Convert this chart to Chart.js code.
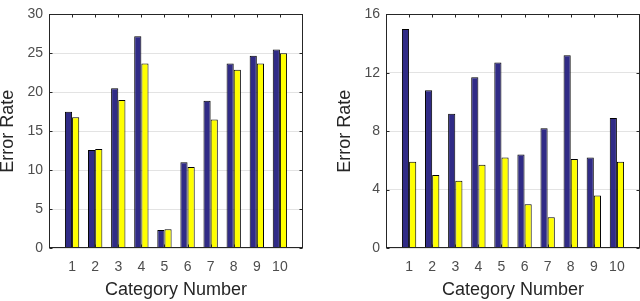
<!DOCTYPE html>
<html>
<head>
<meta charset="utf-8">
<script src="https://cdn.jsdelivr.net/npm/chart.js@4/dist/chart.umd.min.js"></script>
<style>
  html, body { margin: 0; padding: 0; background: #fff; }
  #wrap { display: flex; width: 640px; height: 301px; }
  canvas { display: block; }
</style>
</head>
<body>
<div id="wrap">
  <canvas id="c1" width="320" height="301"></canvas>
  <canvas id="c2" width="320" height="301"></canvas>
</div>
<script>
const categories = ['1', '2', '3', '4', '5', '6', '7', '8', '9', '10'];
const leftBlue   = [17.5, 12.6, 20.5, 27.2, 2.3, 11.0, 18.9, 23.7, 24.7, 25.5];
const leftYellow = [16.8, 12.7, 19.0, 23.7, 2.4, 10.4, 16.5, 22.9, 23.7, 25.0];
const rightBlue   = [15.0, 10.8, 9.2, 11.7, 12.7, 6.4, 8.2, 13.2, 6.2, 8.9];
const rightYellow = [5.9, 5.0, 4.6, 5.7, 6.2, 3.0, 2.1, 6.1, 3.6, 5.9];
const leftYTicks  = [0, 5, 10, 15, 20, 25, 30];
const rightYTicks = [0, 4, 8, 12, 16];
const xTitle = 'Category Number';
const yTitle = 'Error Rate';

const BLUE = '#302b86';
const YELLOW = '#ffff00';
const FONT = "'Liberation Sans', Arial, sans-serif";

const frame = {
  id: 'frame',
  afterDatasetsDraw(chart) {
    const { ctx, chartArea: a, scales: { x, y } } = chart;
    ctx.save();
    ctx.strokeStyle = '#262626';
    ctx.lineWidth = 1;
    const L = Math.round(a.left) + 0.5, R = Math.round(a.right) - 0.5;
    const T = Math.round(a.top) + 0.5, B = Math.round(a.bottom) - 0.5;
    ctx.strokeRect(L, T, R - L, B - T);
    ctx.beginPath();
    y.ticks.forEach(t => {
      const p = Math.round(y.getPixelForValue(t.value)) + 0.5;
      ctx.moveTo(L, p); ctx.lineTo(L + 3, p);
      ctx.moveTo(R, p); ctx.lineTo(R - 3, p);
    });
    x.ticks.forEach(t => {
      if (t.value < 1 || t.value > categories.length) return;
      const p = Math.round(x.getPixelForValue(t.value)) + 0.5;
      ctx.moveTo(p, B); ctx.lineTo(p, B - 3);
      ctx.moveTo(p, T); ctx.lineTo(p, T + 3);
    });
    ctx.stroke();
    ctx.restore();
  }
};

function makeChart(id, blue, yellow, yTicks, yWidth, titlePadTop, rightPad) {
  const toPts = arr => arr.map((v, i) => ({ x: i + 1, y: v }));
  return new Chart(document.getElementById(id), {
    type: 'bar',
    data: {
      datasets: [
        { data: toPts(blue), backgroundColor: BLUE, borderColor: '#000', borderWidth: 1, borderSkipped: 'start' },
        { data: toPts(yellow), backgroundColor: YELLOW, borderColor: '#000', borderWidth: 1, borderSkipped: 'start' }
      ]
    },
    options: {
      responsive: false,
      animation: false,
      events: [],
      categoryPercentage: 0.62,
      barPercentage: 1.0,
      layout: { padding: { left: 0, top: 7, right: rightPad, bottom: 0 } },
      plugins: { legend: { display: false }, tooltip: { enabled: false } },
      scales: {
        x: {
          type: 'linear',
          min: 0,
          max: categories.length + 1,
          offset: false,
          grid: { display: false, drawTicks: false },
          border: { display: false },
          afterBuildTicks: s => { s.ticks = categories.map((c, i) => ({ value: i + 1 })); },
          ticks: {
            autoSkip: false, maxRotation: 0, padding: 11,
            color: '#4d4d4d',
            font: { family: FONT, size: 14, lineHeight: 1.2 },
            callback: v => categories[v - 1] ?? ''
          },
          title: {
            display: true, text: xTitle, color: '#262626',
            font: { family: FONT, size: 18, lineHeight: 1 },
            padding: { top: 0, bottom: 2 }
          },
          afterFit: s => { s.height = 53; }
        },
        y: {
          min: yTicks[0],
          max: yTicks[yTicks.length - 1],
          grid: { color: '#e3e3e3', drawTicks: false, lineWidth: 1 },
          border: { display: false },
          afterBuildTicks: s => { s.ticks = yTicks.map(v => ({ value: v })); },
          ticks: {
            padding: 6, color: '#4d4d4d',
            font: { family: FONT, size: 14, lineHeight: 1.2 }
          },
          title: {
            display: true, text: yTitle, color: '#262626',
            font: { family: FONT, size: 18, lineHeight: 1 },
            padding: { top: titlePadTop, bottom: 0 }
          },
          afterFit: s => { s.width = yWidth; }
        }
      }
    },
    plugins: [frame]
  });
}

makeChart('c1', leftBlue, leftYellow, leftYTicks, 49, -1, 17);
makeChart('c2', rightBlue, rightYellow, rightYTicks, 66, 16, 0);
</script>
</body>
</html>
